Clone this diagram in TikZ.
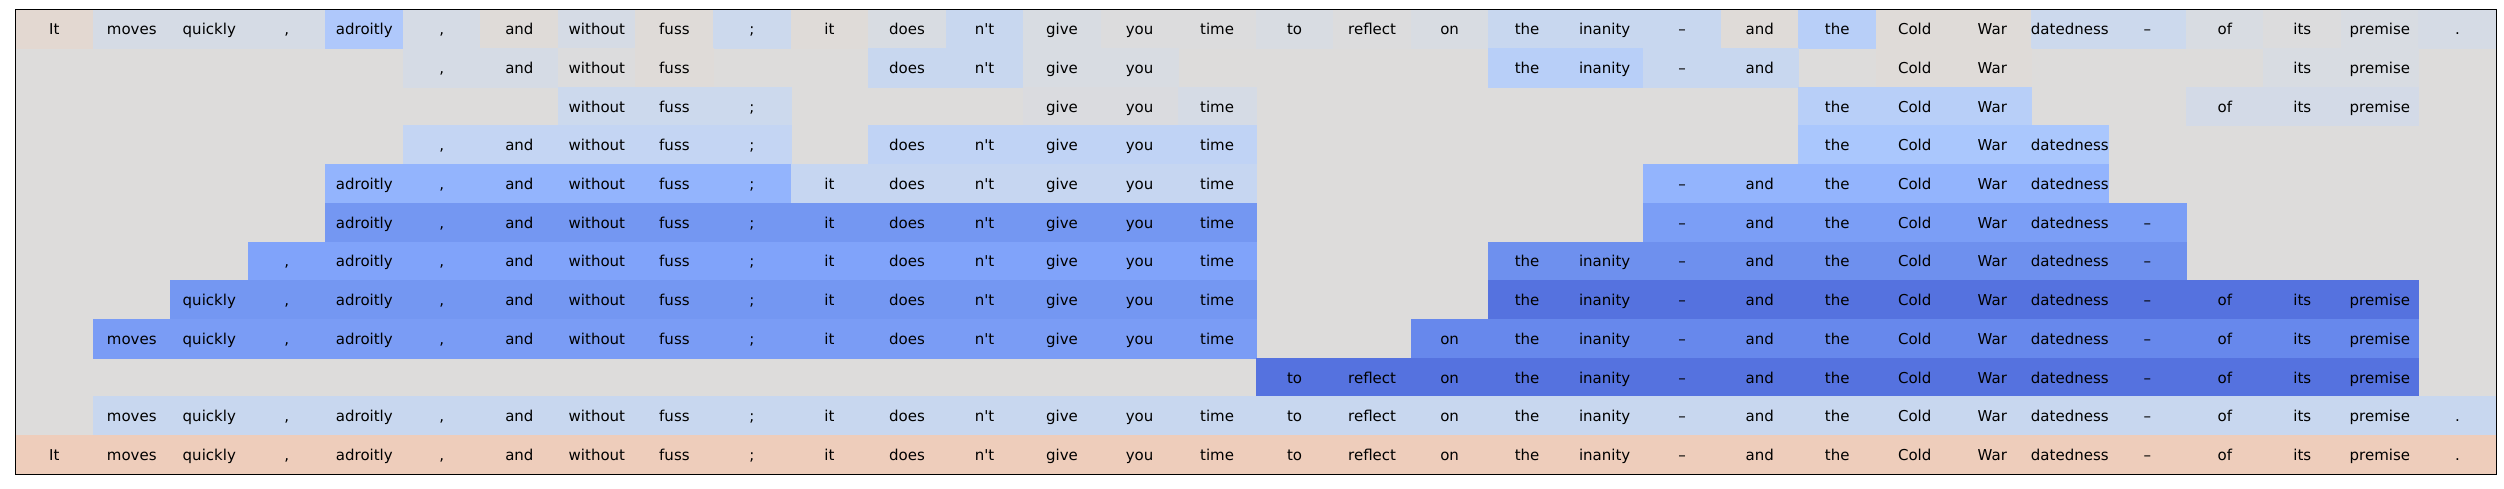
\documentclass[tikz,border=0pt]{standalone}
\usepackage{fontspec}
\setmainfont{DejaVu Sans}
\usetikzlibrary{positioning}

% heat-map colours (blue = low, grey = neutral, red = high)
\definecolor{cwbg}{RGB}{221,220,219}
\definecolor{cwsalmon}{RGB}{238,205,187}
\definecolor{cwpink}{RGB}{227,216,209}
\definecolor{cwwarm}{RGB}{223,219,216}
\definecolor{cwneutral}{RGB}{220,220,221}
\definecolor{cwgreyA}{RGB}{218,219,223}
\definecolor{cwgreyB}{RGB}{216,220,226}
\definecolor{cwgreyC}{RGB}{213,219,229}
\definecolor{cwgreyD}{RGB}{211,218,231}
\definecolor{cwpaleA}{RGB}{204,217,237}
\definecolor{cwpaleB}{RGB}{200,215,239}
\definecolor{cwpaleC}{RGB}{198,214,241}
\definecolor{cwpaleD}{RGB}{196,213,243}
\definecolor{cwpaleE}{RGB}{192,211,245}
\definecolor{cwskyA}{RGB}{184,207,248}
\definecolor{cwskyB}{RGB}{175,200,251}
\definecolor{cwskyC}{RGB}{170,199,253}
\definecolor{cwblueA}{RGB}{147,180,253}
\definecolor{cwblueB}{RGB}{128,163,250}
\definecolor{cwblueC}{RGB}{123,158,246}
\definecolor{cwblueD}{RGB}{122,156,245}
\definecolor{cwblueE}{RGB}{116,151,242}
\definecolor{cwblueG}{RGB}{110,144,238}
\definecolor{cwblueH}{RGB}{103,136,236}
\definecolor{cwblueI}{RGB}{85,114,223}

\def\tokenlist{It,moves,quickly,{,},adroitly,{,},and,without,fuss,;,it,does,n\textquotesingle t,give,you,time,to,reflect,on,the,inanity,--,and,the,Cold,War,datedness,--,of,its,premise,.}

\begin{document}
\begin{tikzpicture}[x=1pt,y=1pt,
  cell/.style={inner sep=0pt,outer sep=0pt,line width=0.4pt,minimum width=77.52pt,minimum height=38.71pt,
    text height=12.6pt,text depth=1pt,font=\fontsize{15}{18}\selectfont}]
  \useasboundingbox[fill=white] (0,0) rectangle (2504,-489);
  \coordinate (tl) at (15.5,-9.5);
  \coordinate (br) at (2496,-474);
  \fill[cwbg] (tl) rectangle (br);
  % --- row / first column / last column / colour
  \foreach \r/\a/\b/\col in {
      1/1/1/cwpink, 1/2/4/cwgreyC, 1/5/5/cwskyB, 1/6/6/cwgreyC, 1/7/7/cwwarm, 1/8/8/cwgreyC,
      1/9/9/cwwarm, 1/10/10/cwpaleA, 1/11/11/cwwarm, 1/12/12/cwgreyB, 1/13/13/cwpaleB, 1/14/14/cwgreyB,
      1/15/16/cwneutral, 1/17/17/cwgreyB, 1/18/18/cwneutral, 1/19/19/cwgreyB, 1/20/22/cwpaleB,
      1/23/23/cwwarm, 1/24/24/cwskyA, 1/25/26/cwwarm, 1/27/28/cwpaleA, 1/29/29/cwgreyB,
      1/30/30/cwneutral, 1/31/31/cwgreyB, 1/32/32/cwgreyC,
      2/6/7/cwgreyC, 2/8/8/cwneutral, 2/9/9/cwwarm, 2/12/13/cwpaleB, 2/14/15/cwgreyB, 2/20/21/cwskyA,
      2/22/23/cwpaleB, 2/25/26/cwwarm, 2/30/31/cwgreyB,
      3/8/10/cwpaleA, 3/14/15/cwgreyA, 3/16/16/cwgreyC, 3/24/26/cwskyA, 3/29/31/cwgreyD,
      4/6/10/cwpaleD, 4/12/16/cwpaleE, 4/24/27/cwskyC,
      5/5/10/cwblueA, 5/11/16/cwpaleC, 5/22/27/cwblueA,
      6/5/16/cwblueE, 6/22/28/cwblueC,
      7/4/16/cwblueB, 7/20/28/cwblueG,
      8/3/16/cwblueE, 8/20/31/cwblueI,
      9/2/16/cwblueD, 9/19/31/cwblueH,
      10/17/31/cwblueI,
      11/2/32/cwpaleB,
      12/1/32/cwsalmon} {
    \foreach \w [count=\c] in \tokenlist {
      \ifnum\c<\a\else\ifnum\c>\b\else
        \node[cell,fill=\col,draw=\col] (c\r-\c) at ({15.5+77.52*(\c-0.5)},{-9.5-38.71*(\r-0.5)}) {\w};
      \fi\fi
    }
  }
  \draw[line width=1pt] (tl) rectangle (br);
\end{tikzpicture}
\end{document}
